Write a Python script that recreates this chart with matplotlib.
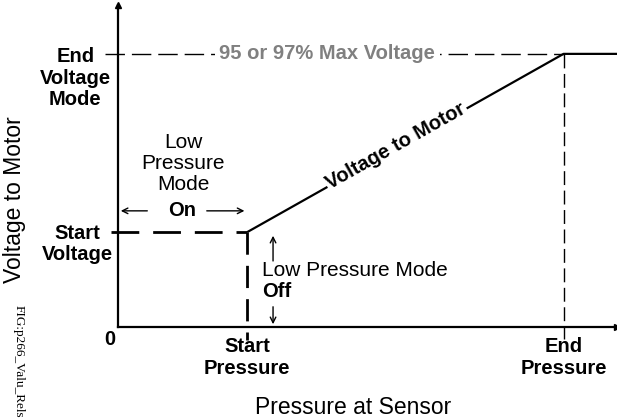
import matplotlib
matplotlib.use("Agg")
import matplotlib.pyplot as plt
import numpy as np

plt.rcParams['font.family'] = ['Liberation Sans', 'DejaVu Sans']

# pressure at sensor (arbitrary units) and voltage to motor (% of max)
pressure = [0, 29, 100, 112]
voltage = [None, 33, 95, 95]
start_pressure = 29
end_pressure = 100
start_voltage = 33
end_voltage = 95
x_max = 112
y_max = 112

fig = plt.figure(figsize=(6.17, 4.18), dpi=100)
ax = fig.add_axes([118 / 617, 91 / 418, 499 / 617, 322 / 418])
ax.set_xlim(0, x_max)
ax.set_ylim(0, y_max)
for s in ['top', 'right']:
    ax.spines[s].set_visible(False)
for s in ['left', 'bottom']:
    ax.spines[s].set_linewidth(1.6)
ax.set_xticks([])
ax.set_yticks([])
ax.patch.set_alpha(0)

# axis arrows
ax.plot(0, 1, '^k', markersize=5, transform=ax.get_xaxis_transform(), clip_on=False)
ax.plot(1, 0, '>k', markersize=5, transform=ax.get_yaxis_transform(), clip_on=False)

# voltage curve
ax.plot(pressure[1:], voltage[1:], color='black', lw=1.6, solid_capstyle='butt', zorder=3)

# dashed guide lines
ax.plot([-3, end_pressure], [end_voltage, end_voltage], color='black', lw=1.0,
        dashes=(14, 5), clip_on=False)
ax.plot([-1.5, start_pressure], [start_voltage, start_voltage], color='black', lw=2.0,
        dashes=(10, 5), clip_on=False)
ax.plot([start_pressure, start_pressure], [start_voltage, -4.5], color='black', lw=2.0,
        dashes=(8, 4), clip_on=False)
ax.plot([end_pressure, end_pressure], [end_voltage, -4], color='black', lw=1.0,
        dashes=(10, 4), clip_on=False)

bold = dict(fontsize=14.5, fontweight='bold', clip_on=False)
reg = dict(fontsize=15, clip_on=False)

ax.text(47, end_voltage, '95 or 97% Max Voltage', color='#808080', ha='center', va='center',
        bbox=dict(facecolor='white', edgecolor='none', pad=3), **bold)

# label on the slope
fig.canvas.draw()
p1 = ax.transData.transform((start_pressure, start_voltage))
p2 = ax.transData.transform((end_pressure, end_voltage))
angle = np.degrees(np.arctan2(p2[1] - p1[1], p2[0] - p1[0]))
ax.text(62.4, 63.0, 'Voltage to Motor', rotation=angle, rotation_mode='anchor',
        ha='center', va='center', zorder=4,
        bbox=dict(facecolor='white', edgecolor='none', pad=1), **bold)

# y-axis labels
ax.text(-9.6, 86.6, 'End\nVoltage\nMode', ha='center', va='center', linespacing=1.18, **bold)
ax.text(-9.2, 28.9, 'Start\nVoltage', ha='center', va='center', linespacing=1.18, **bold)
ax.text(-1.8, -4.2, '0', ha='center', va='center', **bold)

# x-axis labels
ax.text(start_pressure, -3.6, 'Start\nPressure', ha='center', va='top', linespacing=1.15, **bold)
ax.text(end_pressure, -3.6, 'End\nPressure', ha='center', va='top', linespacing=1.15, **bold)

# low pressure mode on
ax.text(14.6, 56.9, 'Low\nPressure\nMode', ha='center', va='center', linespacing=1.12, **reg)
ax.text(14.3, 40.4, 'On', ha='center', va='center', **bold)
ax.annotate('', xy=(0, 40.4), xytext=(7.2, 40.4),
            arrowprops=dict(arrowstyle='->', lw=1.0, color='black'))
ax.annotate('', xy=(start_pressure, 40.4), xytext=(19.3, 40.4),
            arrowprops=dict(arrowstyle='->', lw=1.0, color='black'))

# low pressure mode off
ax.text(32.3, 19.5, 'Low Pressure Mode', ha='left', va='center', **reg)
ax.text(32.3, 12.2, 'Off', ha='left', va='center', **bold)
ax.annotate('', xy=(34.8, start_voltage - 0.3), xytext=(34.8, 22.0),
            arrowprops=dict(arrowstyle='->', lw=1.0, color='black'))
ax.annotate('', xy=(34.8, 0), xytext=(34.8, 8.0),
            arrowprops=dict(arrowstyle='->', lw=1.0, color='black'))

# axis titles
fig.text(15 / 617, 1 - 200 / 418, 'Voltage to Motor', rotation=90, ha='center', va='center',
         fontsize=16.5)
fig.text(353 / 617, 1 - 407 / 418, 'Pressure at Sensor', ha='center', va='center', fontsize=16.5)
fig.text(19 / 617, 1 - 305 / 418, 'FIG:p266_Valu_Rels', rotation=270, ha='center', va='top',
         fontsize=9.5, family='Liberation Serif')

fig.savefig('out.png', dpi=100)
